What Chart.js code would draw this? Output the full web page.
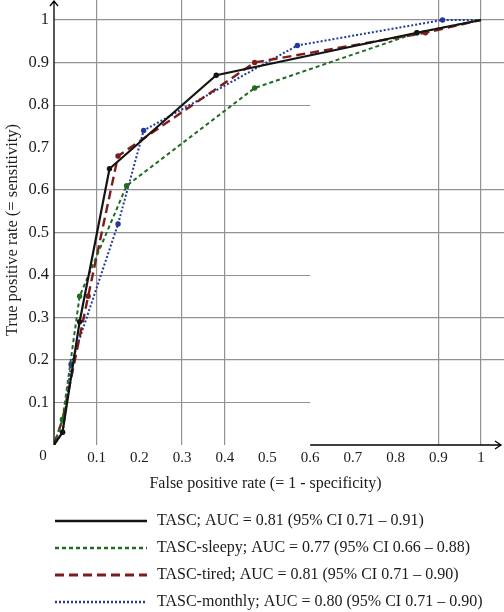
<!DOCTYPE html>
<html>
<head>
<meta charset="utf-8">
<script src="https://cdn.jsdelivr.net/npm/chart.js@4"></script>
<style>
  body { margin: 0; background: #fff; }
</style>
</head>
<body>
<canvas id="rocChart" width="504" height="612"></canvas>
<script>
'use strict';

// ROC points (false positive rate, true positive rate)
const tascFpr     = [0, 0.02, 0.06, 0.13, 0.38, 0.85, 1];
const tascTpr     = [0, 0.03, 0.29, 0.65, 0.87, 0.97, 1];
const sleepyFpr   = [0, 0.02, 0.06, 0.17, 0.47, 0.85, 1];
const sleepyTpr   = [0, 0.06, 0.35, 0.61, 0.84, 0.97, 1];
const tiredFpr    = [0, 0.02, 0.08, 0.15, 0.47, 0.87, 1];
const tiredTpr    = [0, 0.06, 0.35, 0.68, 0.90, 0.97, 1];
const monthlyFpr  = [0, 0.02, 0.04, 0.15, 0.21, 0.57, 0.91, 1];
const monthlyTpr  = [0, 0.03, 0.19, 0.52, 0.74, 0.94, 1.00, 1];

const seriesNames = [
    'TASC; AUC = 0.81 (95% CI 0.71 \u2013 0.91)',
    'TASC-sleepy; AUC = 0.77 (95% CI 0.66 \u2013 0.88)',
    'TASC-tired; AUC = 0.81 (95% CI 0.71 \u2013 0.90)',
    'TASC-monthly; AUC = 0.80 (95% CI 0.71 \u2013 0.90)'
];

// grid lines that show in the original figure
const xGridShown = [0.1, 0.3, 0.4, 0.9, 1];
const yGridFull = [0.2, 0.3, 0.5, 0.6, 0.9, 1];
const yGridShort = [0.1, 0.4, 0.8];   // these stop at x = 0.6
const xAxisStart = 0.6;

const xTitle = 'False positive rate (= 1 - specificity)';
const yTitle = 'True positive rate (= sensitivity)';

const FONT = "'Liberation Serif', 'DejaVu Serif', serif";
const GRID = '#929292';

function toPoints(xs, ys) {
    return xs.map((x, i) => ({ x: x, y: ys[i] }));
}

function makeSet(label, xs, ys, color, width, dash) {
    return {
        label: label,
        data: toPoints(xs, ys),
        showLine: true,
        borderColor: color,
        backgroundColor: color,
        borderWidth: width,
        borderDash: dash,
        pointRadius: (ctx) => (ctx.dataIndex === 0 || ctx.dataIndex === xs.length - 1) ? 0 : 2.7,
        pointBorderWidth: 0,
        pointHoverRadius: 0,
        tension: 0
    };
}

const datasets = [
    makeSet(seriesNames[0], tascFpr, tascTpr, '#141414', 2.2, []),
    makeSet(seriesNames[1], sleepyFpr, sleepyTpr, '#1f6b22', 2, [4, 3]),
    makeSet(seriesNames[2], tiredFpr, tiredTpr, '#7e1c1c', 2.4, [9, 5]),
    makeSet(seriesNames[3], monthlyFpr, monthlyTpr, '#22389a', 2, [2, 2])
];

function near(v, list) {
    return list.some(a => Math.abs(a - v) < 1e-6);
}

const extras = {
    id: 'extras',
    beforeDatasetsDraw(chart) {
        const ctx = chart.ctx;
        const xs = chart.scales.x, ys = chart.scales.y;
        ctx.save();
        ctx.strokeStyle = GRID;
        ctx.lineWidth = 1.2;
        yGridShort.forEach(v => {
            const py = Math.round(ys.getPixelForValue(v)) + 0.5;
            ctx.beginPath();
            ctx.moveTo(xs.getPixelForValue(0), py);
            ctx.lineTo(xs.getPixelForValue(xAxisStart), py);
            ctx.stroke();
        });
        ctx.restore();
    },
    afterDraw(chart) {
        const ctx = chart.ctx;
        const xs = chart.scales.x, ys = chart.scales.y;
        const area = chart.chartArea;
        const x0 = xs.getPixelForValue(0);
        const y0 = ys.getPixelForValue(0);
        ctx.save();
        ctx.strokeStyle = '#000';
        ctx.lineWidth = 1.3;
        // left axis with arrow
        ctx.beginPath();
        ctx.moveTo(x0, y0);
        ctx.lineTo(x0, area.top + 1);
        ctx.moveTo(x0 - 4, area.top + 6);
        ctx.lineTo(x0, area.top + 1);
        ctx.lineTo(x0 + 4, area.top + 6);
        ctx.stroke();
        // bottom axis, only drawn from 0.6 on
        const xr = area.right - 3;
        ctx.beginPath();
        ctx.moveTo(xs.getPixelForValue(xAxisStart), y0);
        ctx.lineTo(xr, y0);
        ctx.moveTo(xr - 6, y0 - 4);
        ctx.lineTo(xr, y0);
        ctx.lineTo(xr - 6, y0 + 4);
        ctx.stroke();

        ctx.fillStyle = '#1a1a1a';
        ctx.font = '15px ' + FONT;
        ctx.textAlign = 'center';
        ctx.textBaseline = 'middle';
        ctx.fillText('0', x0 - 11, y0 + 11);
        // axis titles
        ctx.font = '16px ' + FONT;
        ctx.fillText(xTitle, (x0 + xs.getPixelForValue(1)) / 2 - 2, 484);
        ctx.save();
        ctx.translate(13, 230);
        ctx.rotate(-Math.PI / 2);
        ctx.font = '16.5px ' + FONT;
        ctx.fillText(yTitle, 0, 0);
        ctx.restore();

        // legend
        ctx.font = '16px ' + FONT;
        ctx.textAlign = 'left';
        chart.data.datasets.forEach((ds, i) => {
            const ly = 521 + 27 * i;
            ctx.strokeStyle = ds.borderColor;
            ctx.lineWidth = ds.borderWidth + 0.4;
            ctx.setLineDash(ds.borderDash);
            ctx.beginPath();
            ctx.moveTo(55, ly);
            ctx.lineTo(147, ly);
            ctx.stroke();
            ctx.setLineDash([]);
            ctx.fillText(ds.label, 157, ly);
        });
        ctx.restore();
    }
};

const config = {
    type: 'scatter',
    data: { datasets: datasets },
    options: {
        responsive: false,
        animation: false,
        layout: { padding: { left: 0, right: 0, top: 0, bottom: 117 } },
        plugins: {
            legend: { display: false },
            tooltip: { enabled: false }
        },
        scales: {
            x: {
                type: 'linear',
                min: 0,
                max: 1.054,
                afterFit: (scale) => {
                    scale.height = 50;
                    scale.paddingLeft = 0;
                    scale.paddingRight = 0;
                },
                border: { display: false },
                grid: {
                    drawTicks: false,
                    lineWidth: 1.2,
                    color: (c) => near(c.tick.value, xGridShown) ? GRID : 'rgba(0,0,0,0)'
                },
                ticks: {
                    stepSize: 0.1,
                    includeBounds: false,
                    padding: 4,
                    color: '#1a1a1a',
                    font: { family: FONT, size: 15 },
                    maxRotation: 0,
                    callback: (v) => v === 0 ? '' : String(Math.round(v * 10) / 10)
                }
            },
            y: {
                type: 'linear',
                min: 0,
                max: 1.047,
                afterFit: (scale) => {
                    scale.width = 54;
                    scale.paddingTop = 0;
                    scale.paddingBottom = 0;
                },
                border: { display: false },
                grid: {
                    drawTicks: false,
                    lineWidth: 1.2,
                    color: (c) => near(c.tick.value, yGridFull) ? GRID : 'rgba(0,0,0,0)'
                },
                ticks: {
                    stepSize: 0.1,
                    includeBounds: false,
                    padding: 5,
                    color: '#1a1a1a',
                    font: { family: FONT, size: 16.5 },
                    callback: (v) => v === 0 ? '' : String(Math.round(v * 10) / 10)
                }
            }
        }
    },
    plugins: [extras]
};

const rocChart = new Chart(document.getElementById('rocChart'), config);
</script>
</body>
</html>
